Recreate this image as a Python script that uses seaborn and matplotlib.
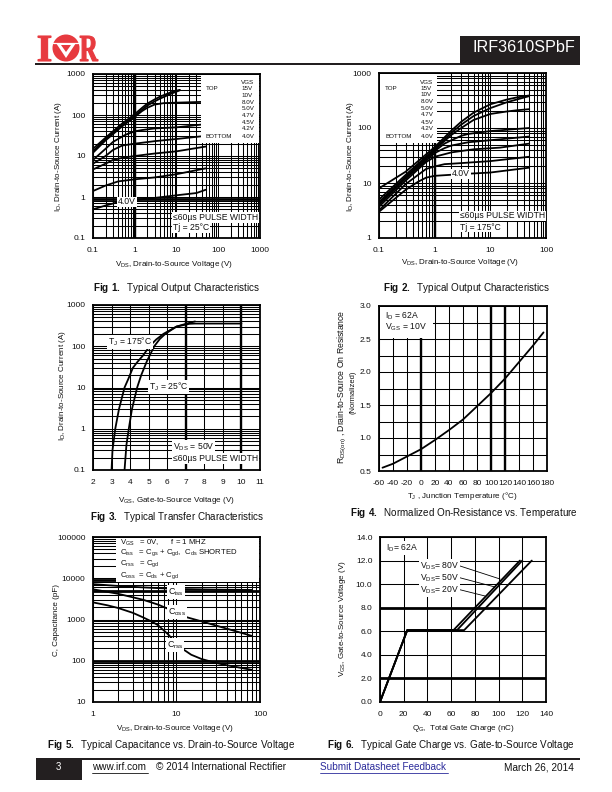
from matplotlib import pyplot as plt
from matplotlib.patches import Rectangle, Circle, Polygon, PathPatch
from matplotlib.textpath import TextPath
from matplotlib.font_manager import FontProperties
from matplotlib.transforms import Affine2D
from matplotlib.ticker import FixedLocator, NullFormatter, NullLocator
import seaborn as sns

sns.set_style("white")
plt.rcParams["font.family"] = ["Liberation Sans", "DejaVu Sans"]
plt.rcParams["mathtext.fontset"] = "custom"
plt.rcParams["mathtext.rm"] = "Liberation Sans"
plt.rcParams["mathtext.bf"] = "Liberation Sans:bold"
plt.rcParams["mathtext.default"] = "regular"

# Fig 1 curves, 25C
fig1_15v = ([0.1, 0.2, 0.3, 0.5, 1, 1.5, 2, 3, 4, 6, 8, 12], [15, 28, 40, 62, 105, 150, 190, 240, 280, 330, 370, 410])
fig1_10v = ([0.1, 0.2, 0.3, 0.5, 1, 1.5, 2, 3, 4, 6, 8, 12], [13, 26, 37, 57, 95, 135, 170, 215, 250, 300, 340, 400])
fig1_8v = ([0.1, 0.2, 0.3, 0.5, 1, 1.5, 2, 3, 5, 10, 50], [12, 24, 34, 53, 90, 125, 150, 180, 195, 200, 210])
fig1_5v = ([0.1, 0.2, 0.3, 0.6, 1, 1.5, 3, 10, 50], [8, 15, 22, 33, 40, 43, 47, 50, 60])
fig1_47v = ([0.1, 0.2, 0.3, 0.5, 1, 3, 10, 50], [6.5, 10, 14, 18, 20, 23, 26, 31])
fig1_45v = ([0.1, 0.2, 0.3, 0.5, 1, 3, 10, 50], [4.7, 6.5, 8, 9, 10, 11.5, 13, 17])
fig1_42v = ([0.1, 0.2, 0.4, 1, 3, 10, 50], [1.4, 1.9, 2.4, 2.7, 3, 3.6, 5])
fig1_40v = ([0.1, 0.2, 0.4, 1, 3, 10, 30, 50], [0.5, 0.62, 0.75, 0.85, 0.95, 1.1, 1.25, 1.5])

# Fig 2 curves, 175C
fig2_15v = ([0.1, 0.3, 1, 2, 3, 5, 10, 20, 30, 50], [8, 16, 45, 90, 130, 190, 270, 330, 360, 390])
fig2_10v = ([0.1, 0.3, 1, 2, 3, 5, 10, 20, 30, 50], [5, 14, 42, 82, 115, 165, 230, 295, 330, 380])
fig2_8v = ([0.1, 0.3, 1, 2, 3, 5, 10, 20, 30, 50], [4.5, 13, 40, 75, 100, 140, 180, 200, 210, 220])
fig2_5v = ([0.1, 0.3, 1, 1.5, 2, 3, 4, 10, 50], [4.2, 12.5, 38, 52, 60, 72, 78, 88, 100])
fig2_47v = ([0.1, 0.3, 1, 1.5, 2, 4, 10, 50], [4, 12, 35, 43, 48, 55, 60, 70])
fig2_45v = ([0.1, 0.3, 0.7, 1, 2, 5, 15, 50], [3.7, 11, 24, 30, 36, 41, 44, 52])
fig2_42v = ([0.1, 0.3, 0.7, 1, 1.5, 3, 10, 50], [3.2, 9.5, 18, 20, 22, 23, 25, 30])
fig2_40v = ([0.1, 0.3, 0.5, 0.7, 1, 3, 10, 50], [3, 7.5, 10.5, 12.5, 13.5, 14.5, 15.5, 19])

# Fig 3 transfer curves
fig3_175 = ([3.0, 3.05, 3.2, 3.4, 3.7, 3.9, 4.15, 4.4, 4.7, 5.05, 5.4, 5.8, 6.5, 7.2, 7.5],
            [0.1, 0.3, 1, 3, 10, 16, 30, 42, 60, 100, 145, 200, 300, 370, 400])
fig3_25 = ([3.7, 3.8, 3.93, 4.1, 4.38, 4.6, 4.9, 5.3, 5.6, 5.9, 6.5, 7.2, 7.5, 10],
           [0.1, 0.4, 1, 3, 10, 20, 43, 100, 150, 200, 300, 350, 355, 355])

# Fig 4 on resistance
fig4_temp = [-55, -40, -20, 0, 20, 40, 60, 80, 100, 120, 140, 160, 175]
fig4_res = [0.55, 0.61, 0.72, 0.83, 0.97, 1.12, 1.28, 1.48, 1.68, 1.9, 2.15, 2.4, 2.6]

# Fig 5 capacitance
fig5_ciss = ([1, 2, 4, 10, 30, 80], [7200, 6500, 6000, 5500, 5300, 5200])
fig5_coss = ([1, 2, 4, 6, 8, 10, 14, 20, 40, 80], [5400, 4200, 3000, 2300, 1800, 1350, 1100, 900, 600, 400])
fig5_crss = ([1, 1.5, 2, 3, 4, 5, 6, 7, 8, 9, 10, 12, 15, 20, 30, 40, 80],
             [2600, 2200, 1900, 1450, 1120, 900, 730, 550, 430, 330, 260, 190, 140, 110, 88, 78, 60])

# Fig 6 gate charge
fig6_20v = ([0, 23, 62, 118], [0, 6.1, 6.1, 12])
fig6_50v = ([0, 23, 65, 120], [0, 6.1, 6.1, 12])
fig6_80v = ([0, 23, 71, 128], [0, 6.1, 6.1, 12])

legend_volts = ["15V", "10V", "8.0V", "5.0V", "4.7V", "4.5V", "4.2V", "4.0V"]

RED = "#e73a3f"
DARK = "#231f20"
LOG_SUBS = [2, 3, 4, 5, 6, 7, 8, 9]


def log_minor(ticks):
    minor = []
    for t in ticks[:-1]:
        minor += [t * s for s in LOG_SUBS]
    return minor


# One chart panel, box is left, top, right, bottom in page pixels
def panel(fig, box, curves, xticks, yticks, xlabels, ylabels, xlog=False, ylog=False,
          xminor=None, yminor=None, xthick=(), ythick=(), lw=1.3):
    l, t, r, b = box
    ax = fig.add_axes([l / 612, 1 - b / 792, (r - l) / 612, (b - t) / 792])
    for xs, ys in curves:
        sns.lineplot(x=xs, y=ys, color="black", linewidth=lw, estimator=None,
                     errorbar=None, sort=False, ax=ax, zorder=3)
    if xlog:
        ax.set_xscale("log")
    if ylog:
        ax.set_yscale("log")
    ax.set_xlim(xticks[0], xticks[-1])
    ax.set_ylim(yticks[0], yticks[-1])
    ax.xaxis.set_major_locator(FixedLocator(xticks))
    ax.yaxis.set_major_locator(FixedLocator(yticks))
    ax.xaxis.set_minor_locator(FixedLocator(xminor) if xminor else NullLocator())
    ax.yaxis.set_minor_locator(FixedLocator(yminor) if yminor else NullLocator())
    ax.xaxis.set_minor_formatter(NullFormatter())
    ax.yaxis.set_minor_formatter(NullFormatter())
    ax.set_xticklabels(xlabels)
    ax.set_yticklabels(ylabels)
    ax.tick_params(axis="x", which="both", length=0, labelsize=6, pad=6.5, labelcolor="#111111")
    ax.tick_params(axis="y", which="both", length=0, labelsize=6, pad=5.5, labelcolor="#111111")
    ax.set_axisbelow(True)
    ax.grid(which="both", color="black", linewidth=0.75)
    for v in xthick:
        ax.axvline(v, color="black", linewidth=1.7, zorder=1)
    for v in ythick:
        ax.axhline(v, color="black", linewidth=2.0, zorder=1)
    for s in ax.spines.values():
        s.set_visible(True)
        s.set_color("black")
        s.set_linewidth(1.3)
    ax.set_xlabel("")
    ax.set_ylabel("")
    return ax


# Text on the page overlay, optionally on a white patch
def label(page, x, y, s, size=5.8, ha="left", white=False, rotation=0, **kw):
    bbox = dict(facecolor="white", edgecolor="none", pad=0.6) if white else None
    page.text(x, y, s, fontsize=size, ha=ha, va="center", rotation=rotation,
              rotation_mode="anchor" if rotation else "default", bbox=bbox, color="#111111", **kw)


def white_box(page, x0, y0, x1, y1):
    page.add_patch(Rectangle((x0, y0), x1 - x0, y1 - y0, facecolor="white", edgecolor="none", zorder=0))


def vgs_legend(page, x_top, x_val, x_head, y_head, ys):
    label(page, x_head, y_head, "VGS", size=4.5, ha="center")
    label(page, x_top, ys[0], "TOP", size=4.5)
    label(page, x_top, ys[-1], "BOTTOM", size=4.5)
    for v, y in zip(legend_volts, ys):
        label(page, x_val, y, v, size=4.5)


def fit_glyph(page, s, x0, y0, x1, y1):
    tp = TextPath((0, 0), s, size=10, prop=FontProperties(family="Liberation Serif", weight="bold"))
    e = tp.get_extents()
    tr = Affine2D().translate(-e.x0, -e.y0).scale((x1 - x0) / e.width, -(y1 - y0) / e.height).translate(x0, y1)
    page.add_patch(PathPatch(tr.transform_path(tp), facecolor=RED, edgecolor=RED, linewidth=0.8))


def draw_page(page):
    # header
    fit_glyph(page, "I", 38, 36, 51, 61)
    fit_glyph(page, "R", 80, 36, 98, 61)
    page.add_patch(Circle((66, 48), 13.5, facecolor=RED, edgecolor="none"))
    page.add_patch(Polygon([(56, 43), (76, 43), (66, 58)], facecolor="white", edgecolor="none"))
    page.plot([52.5, 79.5], [43, 43], color="white", lw=0.9)
    page.add_patch(Polygon([(61, 45), (71, 45), (66, 52)], facecolor=RED, edgecolor="none"))
    page.add_patch(Rectangle((35, 63), 545, 2, facecolor=DARK, edgecolor="none"))
    page.add_patch(Rectangle((460, 36), 120, 29, facecolor=DARK, edgecolor="none"))
    page.text(472, 48, "IRF3610SPbF", color="white", fontsize=11.6, va="center")

    # footer
    page.add_patch(Rectangle((36, 758), 544, 2, facecolor=DARK, edgecolor="none"))
    page.add_patch(Rectangle((36, 758), 46, 22, facecolor=DARK, edgecolor="none"))
    page.text(56, 767.5, "3", color="white", fontsize=7, va="center")
    page.text(92, 767.5, "www.irf.com", color="#111111", fontsize=7.2, va="center")
    page.plot([92, 148], [772.5, 772.5], color="#111111", lw=0.6)
    page.text(156, 767.5, "\u00a9 2014 International Rectifier", color="#111111", fontsize=7.2, va="center")
    page.text(320, 767.5, "Submit Datasheet Feedback", color="#2b2b9b", fontsize=7.2, va="center")
    page.plot([320, 448], [772.5, 772.5], color="#2b2b9b", lw=0.6)
    page.text(574, 767.5, "March 26, 2014", color="#111111", fontsize=7.2, va="center", ha="right")

    # fig 1 texts
    white_box(page, 201, 75, 259, 143)
    vgs_legend(page, 205.7, 241.7, 248, 82, [89, 95.7, 102, 108.7, 115.7, 122.3, 129, 136])
    label(page, 173, 217.7, "\u226460\u00b5s PULSE WIDTH", size=6.2, white=True)
    label(page, 173, 227.7, "Tj = 25\u00b0C", size=6.2, white=True)
    label(page, 118, 202, "4.0V", size=6.2, white=True)
    label(page, 174, 264, "V$_{DS}$, Drain-to-Source Voltage (V)", ha="center")
    label(page, 58, 157, "I$_{D}$, Drain-to-Source Current (A)", ha="center", rotation=90)
    label(page, 93, 288, r"$\mathbf{Fig\ 1.}$  Typical Output Characteristics", size=7.1)

    # fig 2 texts
    white_box(page, 380, 74, 437, 143)
    vgs_legend(page, 385, 420.7, 426.7, 82, [88, 95, 101.7, 109, 115, 122, 128.7, 136])
    label(page, 460, 216, "\u226460\u00b5s PULSE WIDTH", size=6.2, white=True)
    label(page, 460, 227, "Tj = 175\u00b0C", size=6.2, white=True)
    label(page, 452, 174, "4.0V", size=6.2, white=True)
    label(page, 460, 263, "V$_{DS}$, Drain-to-Source Voltage (V)", ha="center")
    label(page, 351, 157, "I$_{D}$, Drain-to-Source Current (A)", ha="center", rotation=90)
    label(page, 383, 288, r"$\mathbf{Fig\ 2.}$  Typical Output Characteristics", size=7.1)

    # fig 3 texts
    label(page, 108, 342, "T$_{J}$ = 175\u00b0C", size=6.2, white=True)
    label(page, 149, 387, "T$_{J}$ = 25\u00b0C", size=6.2, white=True)
    label(page, 173, 447, "V$_{DS}$ = 50V", size=6.2, white=True)
    label(page, 173, 458.5, "\u226460\u00b5s PULSE WIDTH", size=6.2, white=True)
    label(page, 176, 501, "V$_{GS}$, Gate-to-Source Voltage (V)", ha="center")
    label(page, 63, 386, "I$_{D}$, Drain-to-Source Current (A)", ha="center", rotation=90)
    label(page, 90, 517, r"$\mathbf{Fig\ 3.}$  Typical Transfer Characteristics", size=7.1)

    # fig 4 texts
    white_box(page, 380, 307, 433, 338)
    label(page, 385, 316, "I$_{D}$ = 62A", size=6.2)
    label(page, 385, 327, "V$_{GS}$ = 10V", size=6.2)
    label(page, 462, 496, "T$_{J}$ , Junction Temperature (\u00b0C)", ha="center")
    label(page, 342, 387, "R$_{DS(on)}$ , Drain-to-Source On Resistance", ha="center", rotation=90, size=6.2)
    label(page, 353, 392, "(Normalized)", ha="center", rotation=90, size=5.4)
    label(page, 350, 513, r"$\mathbf{Fig\ 4.}$  Normalized On-Resistance vs. Temperature", size=7.1)

    # fig 5 texts
    white_box(page, 116, 538, 259, 582)
    label(page, 120, 543, "V$_{GS}$   = 0V,      f = 1 MHZ", size=5.6)
    label(page, 120, 553, "C$_{iss}$   = C$_{gs}$ + C$_{gd}$,  C$_{ds}$ SHORTED", size=5.6)
    label(page, 120, 564, "C$_{rss}$   = C$_{gd}$", size=5.6)
    label(page, 120, 575.5, "C$_{oss}$  = C$_{ds}$ + C$_{gd}$", size=5.6)
    label(page, 168, 592, "C$_{iss}$", size=6.4, white=True)
    label(page, 168, 612, "C$_{oss}$", size=6.4, white=True)
    label(page, 167, 645, "C$_{rss}$", size=6.4, white=True)
    label(page, 175, 728, "V$_{DS}$, Drain-to-Source Voltage (V)", ha="center")
    label(page, 57, 620, "C, Capacitance (pF)", ha="center", rotation=90)
    label(page, 47, 745, r"$\mathbf{Fig\ 5.}$  Typical Capacitance vs. Drain-to-Source Voltage", size=7.1)

    # fig 6 texts
    label(page, 386, 548, "I$_{D}$= 62A", size=6.2, white=True)
    for y0, x1, y1, s in [(565, 500, 579, "V$_{DS}$= 80V"), (577, 495, 587, "V$_{DS}$= 50V"), (589, 485, 596, "V$_{DS}$= 20V")]:
        page.plot([457, x1], [y0, y1], color="black", lw=0.6)
        label(page, 420, y0 + 1, s, size=6.2, white=True)
    label(page, 463, 728, "Q$_{G}$,  Total Gate Charge (nC)", ha="center")
    label(page, 342, 619, "V$_{GS}$, Gate-to-Source Voltage (V)", ha="center", rotation=90)
    label(page, 327, 745, r"$\mathbf{Fig\ 6.}$  Typical Gate Charge vs. Gate-to-Source Voltage", size=7.1)


fig = plt.figure(figsize=(6.12, 7.92), dpi=100)

y1 = [0.1, 1, 10, 100, 1000]
x1 = [0.1, 1, 10, 100, 1000]
panel(fig, (93, 74, 260, 238),
      [fig1_15v, fig1_10v, fig1_8v, fig1_5v, fig1_47v, fig1_45v, fig1_42v, fig1_40v],
      x1, y1, ["0.1", "1", "10", "100", "1000"], ["0.1", "1", "10", "100", "1000"],
      xlog=True, ylog=True, xminor=log_minor(x1), yminor=log_minor(y1), xthick=[1], ythick=[0.9])

x2 = [0.1, 1, 10, 100]
y2 = [1, 10, 100, 1000]
panel(fig, (379, 73, 546, 238),
      [fig2_15v, fig2_10v, fig2_8v, fig2_5v, fig2_47v, fig2_45v, fig2_42v, fig2_40v],
      x2, y2, ["0.1", "1", "10", "100"], ["1", "10", "100", "1000"],
      xlog=True, ylog=True, xminor=log_minor(x2), yminor=log_minor(y2), xthick=[1])

x3 = [2, 3, 4, 5, 6, 7, 8, 9, 10, 11]
panel(fig, (93, 305, 260, 470), [fig3_175, fig3_25],
      x3, y1, [str(v) for v in x3], ["0.1", "1", "10", "100", "1000"],
      ylog=True, yminor=log_minor(y1), xthick=[7, 10])

x4 = [-60, -40, -20, 0, 20, 40, 60, 80, 100, 120, 140, 160, 180]
y4 = [0.5, 1.0, 1.5, 2.0, 2.5, 3.0]
panel(fig, (379, 306, 547, 471), [(fig4_temp, fig4_res)],
      x4, y4, [str(v) for v in x4], ["0.5", "1.0", "1.5", "2.0", "2.5", "3.0"],
      yminor=[0.75, 1.25, 1.75, 2.25, 2.75], xthick=[0, 100, 120])

x5 = [1, 10, 100]
y5 = [10, 100, 1000, 10000, 100000]
panel(fig, (93, 537, 260, 702), [fig5_ciss, fig5_coss, fig5_crss],
      x5, y5, ["1", "10", "100"], ["10", "100", "1000", "10000", "100000"],
      xlog=True, ylog=True, xminor=log_minor(x5), yminor=log_minor(y5), ythick=[100, 5000, 9000])

x6 = [0, 20, 40, 60, 80, 100, 120, 140]
y6 = [0, 2, 4, 6, 8, 10, 12, 14]
panel(fig, (380, 537, 546, 702), [fig6_20v, fig6_50v, fig6_80v],
      x6, y6, [str(v) for v in x6], ["0.0", "2.0", "4.0", "6.0", "8.0", "10.0", "12.0", "14.0"],
      ythick=[2, 8])

page = fig.add_axes([0, 0, 1, 1], zorder=10)
page.set_xlim(0, 612)
page.set_ylim(792, 0)
page.axis("off")
page.patch.set_alpha(0)
draw_page(page)
page.set_xlim(0, 612)
page.set_ylim(792, 0)

fig.savefig("out.png", dpi=100)
